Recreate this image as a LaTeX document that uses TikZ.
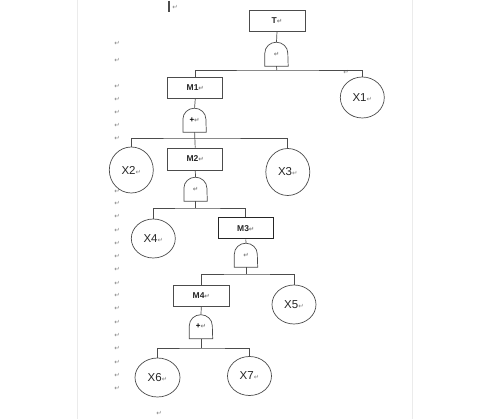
\documentclass[tikz,border=0pt]{standalone}
\usepackage{fontspec}
\setmainfont{Liberation Sans}
\newfontfamily\djv{DejaVu Sans}
\usetikzlibrary{shapes.geometric}
\newcommand\pmk{{\djv\fontsize{6.5}{6.5}\selectfont\color{black!50}↵}}
\tikzset{
  ln/.style={draw=black!70, line width=0.7pt},
  evbox/.style={ln, rectangle, minimum width=55pt, minimum height=21pt, inner sep=0pt,
     font=\bfseries\fontsize{8.5}{9}\selectfont\color{black!85}},
  basic/.style={ln, ellipse, minimum width=44pt, minimum height=39pt, inner sep=0pt,
     font=\fontsize{11.5}{12}\selectfont\color{black!85}},
  gatebox/.style={minimum width=23pt, minimum height=24pt, inner sep=0pt,
     font=\bfseries\fontsize{8}{8}\selectfont},
  pmark/.style={inner sep=0pt},
  pagemargin/.style={draw=black!8, line width=1pt}
}
\newcommand\gateshape[1]{%
  \draw[ln] (#1.south west) -- ([yshift=13pt]#1.south west)
    arc[start angle=180, end angle=0, x radius=11.5pt, y radius=11pt]
    -- (#1.south east) -- cycle;}
\begin{document}
\begin{tikzpicture}[x=1pt, y=-1pt]
\useasboundingbox (0,0) rectangle (500,419);
\fill[white] (0,0) rectangle (500,419);
% page margins
\draw[pagemargin] (77,0) -- (77,419);
\draw[pagemargin] (412.5,0) -- (412.5,419);
% cursor
\draw[black!70, line width=1.5pt] (169,1) -- (169,12);
\node[pmark] (pc) at (175,7) {\pmk};
% left margin paragraph marks
\foreach \yy [count=\i] in {43,60,86,99,112,125,138,191,203,216,230,243,256,269,283,295,308,322,335,348,362,375,388}
  \node[pmark] (pm\i) at (117,\yy) {\pmk};
\node[pmark] (pb) at (159,413) {\pmk};
\node[pmark] (px) at (346,72) {\pmk};

% events
\node[evbox, minimum width=56pt] (T) at (277,20.5) {T\pmk};
\node[evbox] (M1) at (195.3,87.5) {M1\pmk};
\node[evbox, minimum height=22pt] (M2) at (195.2,159) {M2\pmk};
\node[evbox, line width=1pt, draw=black!85] (M3) at (245.8,228.5) {M3\pmk};
\node[evbox, minimum width=56pt] (M4) at (201.3,295.5) {M4\pmk};

% gates
\node[gatebox] (g0) at (276.5,54) {\pmk};
\node[gatebox] (g1) at (194.6,120) {+\pmk};
\node[gatebox] (g2) at (195.6,189) {\pmk};
\node[gatebox] (g3) at (246,255) {\pmk};
\node[gatebox] (g4) at (201,326.5) {+\pmk};
\foreach \g in {g0,g1,g2,g3,g4} {\gateshape{\g}}

% basic events
\node[basic, minimum height=41pt] (X1) at (362.3,97.5) {X1\pmk};
\node[basic, minimum height=46pt] (X2) at (131.3,170) {X2\pmk};
\node[basic, minimum height=47pt] (X3) at (287.8,172) {X3\pmk};
\node[basic] (X4) at (153.3,238.5) {X4\pmk};
\node[basic] (X5) at (294,304.5) {X5\pmk};
\node[basic, minimum width=45pt] (X6) at (157.5,377.5) {X6\pmk};
\node[basic] (X7) at (249.5,376) {X7\pmk};

% junctions
\coordinate (b0) at (276.8,70);
\coordinate (b1) at (194.6,138);
\coordinate (b2) at (195.6,208);
\coordinate (b3) at (246,274);
\coordinate (b4) at (201,348);

% connectors
\draw[ln] (T.south) -- (g0.north);
\draw[ln] (g0.south) -- (b0);
\draw[ln] (M1.north) |- (b0) -| (X1.north);
\draw[ln] (M1.south) -- (g1.north);
\draw[ln] (g1.south) -- (M2.north);
\draw[ln] (X2.north) |- (b1) -| (X3.north);
\draw[ln] (M2.south) -- (g2.north);
\draw[ln] (g2.south) -- (b2);
\draw[ln] (X4.north) |- (b2) -| (M3.north);
\draw[ln] (M3.south) -- (g3.north);
\draw[ln] (g3.south) -- (b3);
\draw[ln] (M4.north) |- (b3) -| (X5.north);
\draw[ln] (M4.south) -- (g4.north);
\draw[ln] (g4.south) -- (b4);
\draw[ln] (X6.north) |- (b4) -| (X7.north);
\end{tikzpicture}
\end{document}
